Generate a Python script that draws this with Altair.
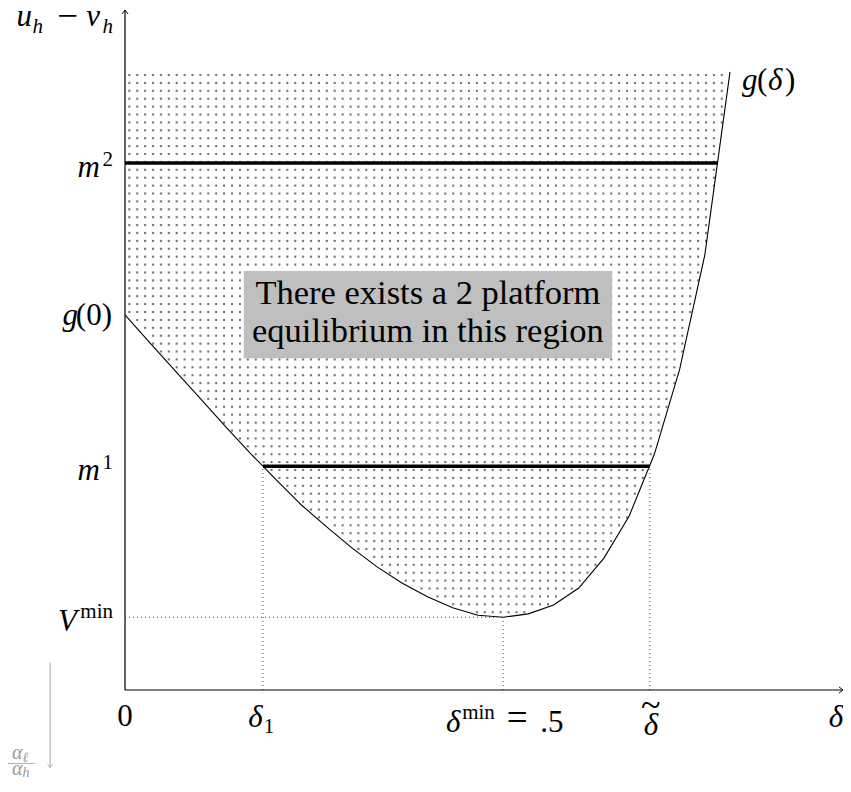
import altair as alt
import pandas as pd
import numpy as np

# ---------------- data ----------------
DELTA = [0.0, 0.0333, 0.0667, 0.1, 0.1333, 0.1667, 0.2, 0.2333, 0.2667, 0.3,
         0.3333, 0.3667, 0.4, 0.4333, 0.4667, 0.5, 0.5333, 0.5667, 0.6, 0.6333,
         0.6667, 0.7, 0.7333, 0.7667, 0.8]
G = [0.5515, 0.510, 0.469, 0.428, 0.387, 0.347, 0.309, 0.272, 0.240, 0.209,
     0.181, 0.157, 0.137, 0.121, 0.110, 0.107, 0.112, 0.125, 0.150, 0.194,
     0.256, 0.347, 0.471, 0.640, 0.909]

X_END = 0.9494     # end of delta axis
Y_END = 1.0        # end of u_h - v_h axis
TOP = 0.909        # top of dotted region
M1 = 0.329
M2 = 0.775
G0 = G[0]
VMIN = 0.107
DMIN = 0.5
D1 = 0.1825
DTILDE = 0.694
M2_END = 0.784

BOX_X = [0.157, 0.644]
BOX_Y = [0.488, 0.616]
BOX_LINES = ["There exists a 2 platform", "equilibrium in this region"]

ARROW_X = -0.099
ARROW_Y = [0.040, -0.114]
FRAC_X = [-0.1548, -0.119]
FRAC_Y = -0.108

FONT = "Liberation Serif"
W, H = 718, 680

xs = alt.Scale(domain=[0, X_END], nice=False, zero=False)
ys = alt.Scale(domain=[0, Y_END], nice=False, zero=False)


def X(f="x"):
    return alt.X(f"{f}:Q", scale=xs, axis=None)


def Y(f="y"):
    return alt.Y(f"{f}:Q", scale=ys, axis=None)


def seg_chart(segs, **mark):
    df = pd.DataFrame(segs, columns=["x", "y", "x2", "y2"])
    return alt.Chart(df).mark_rule(**mark).encode(
        x=X("x"), y=Y("y"), x2="x2:Q", y2="y2:Q")


def label(x, y, s, size=31, italic=False, align="center", dx=0, dy=0,
          color="black"):
    df = pd.DataFrame({"x": [x], "y": [y], "t": [s]})
    kw = dict(font=FONT, fontSize=size, align=align, baseline="alphabetic",
              dx=dx, dy=dy, color=color)
    if italic:
        kw["fontStyle"] = "italic"
    return alt.Chart(df).mark_text(**kw).encode(x=X(), y=Y(), text="t:N")


# ---------------- dotted fill pattern above the curve ----------------
step_x = 7.9 / (W / X_END)
step_y = 7.9 / (H / Y_END)
gx = np.arange(0.0057, 0.8, step_x)
gy = np.arange(0.9044, 0.0, -step_y)
GX, GY = np.meshgrid(gx, gy)
GX, GY = GX.ravel(), GY.ravel()
keep = GY > np.interp(GX, DELTA, G) + 0.003
dots = pd.DataFrame({"x": GX[keep], "y": GY[keep]})
dot_layer = alt.Chart(dots).mark_square(size=4.5, color="#777777", opacity=1).encode(
    x=X(), y=Y())

# ---------------- curve ----------------
curve = pd.DataFrame({"x": DELTA, "y": G})
curve_layer = alt.Chart(curve).mark_line(color="black", strokeWidth=1.1).encode(
    x=X(), y=Y(), order="x:Q")

# ---------------- box ----------------
box_df = pd.DataFrame({"x": [BOX_X[0]], "x2": [BOX_X[1]], "y": [BOX_Y[0]], "y2": [BOX_Y[1]]})
box_layer = alt.Chart(box_df).mark_rect(color="#bfbfbf").encode(
    x=X("x"), x2="x2:Q", y=Y("y"), y2="y2:Q")
bcx = (BOX_X[0] + BOX_X[1]) / 2
bcy = (BOX_Y[0] + BOX_Y[1]) / 2
box_text = [label(bcx, bcy, BOX_LINES[0], size=34.5, dy=-10.5),
            label(bcx, bcy, BOX_LINES[1], size=34.5, dy=27.5)]

# ---------------- guides ----------------
dotted = seg_chart([[D1, 0, D1, M1], [DMIN, 0, DMIN, VMIN],
                    [DTILDE, 0, DTILDE, M1], [0, VMIN, DMIN, VMIN]],
                   color="#333333", strokeWidth=0.9, strokeDash=[1, 3])
thick = seg_chart([[0, M2, M2_END, M2], [D1, M1, DTILDE, M1]],
                  color="black", strokeWidth=3.6)
axes = seg_chart([[0, 0, X_END, 0], [0, 0, 0, Y_END]], color="black", strokeWidth=1.2)

HEAD = "M-1,1.3 Q-0.35,0.45 0,0 Q0.35,0.45 1,1.3"
head_x = alt.Chart(pd.DataFrame({"x": [X_END], "y": [0]})).mark_point(
    shape=HEAD, size=36, filled=False, color="black", strokeWidth=1, angle=90, opacity=1
).encode(x=X(), y=Y())
head_y = alt.Chart(pd.DataFrame({"x": [0], "y": [Y_END]})).mark_point(
    shape=HEAD, size=36, filled=False, color="black", strokeWidth=1, opacity=1
).encode(x=X(), y=Y())

# gray arrow + fraction
gray_arrow = seg_chart([[ARROW_X, ARROW_Y[0], ARROW_X, ARROW_Y[1]]],
                       color="#b3b3b3", strokeWidth=1.2)
gray_head = alt.Chart(pd.DataFrame({"x": [ARROW_X], "y": [ARROW_Y[1]]})).mark_point(
    shape=HEAD, size=25, filled=False, color="#b3b3b3", strokeWidth=1, angle=180, opacity=1
).encode(x=X(), y=Y())
frac_bar = seg_chart([[FRAC_X[0], FRAC_Y, FRAC_X[1], FRAC_Y]], color="#9a9a9a", strokeWidth=0.8)
fcx = (FRAC_X[0] + FRAC_X[1]) / 2
GRAY = "#999999"
frac = [label(fcx, FRAC_Y, "α", size=20, italic=True, align="right", dx=1, dy=-4, color=GRAY),
        label(fcx, FRAC_Y, "ℓ", size=14, italic=True, align="left", dx=1, dy=-1, color=GRAY),
        label(fcx, FRAC_Y, "α", size=20, italic=True, align="right", dx=1, dy=12, color=GRAY),
        label(fcx, FRAC_Y, "h", size=14, italic=True, align="left", dx=1, dy=14, color=GRAY)]

# ---------------- labels ----------------
labels = [
    # u_h - v_h
    label(0, Y_END, "u", italic=True, align="right", dx=-93, dy=16),
    label(0, Y_END, "h", size=21, italic=True, align="right", dx=-82, dy=23),
    label(0, Y_END, "−", size=37, align="right", dx=-47, dy=18),
    label(0, Y_END, "v", italic=True, align="right", dx=-25, dy=16),
    label(0, Y_END, "h", size=21, italic=True, align="right", dx=-12, dy=23),
    # m^2
    label(0, M2, "m", italic=True, align="right", dx=-25, dy=14),
    label(0, M2, "2", size=21, align="right", dx=-12, dy=3),
    # g(0)
    label(0, G0, "g", italic=True, align="right", dx=-47, dy=10),
    label(0, G0, "(0)", align="right", dx=-13, dy=10),
    # m^1
    label(0, M1, "m", italic=True, align="right", dx=-25, dy=14),
    label(0, M1, "1", size=21, align="right", dx=-12, dy=3),
    # V^min
    label(0, VMIN, "V", italic=True, align="right", dx=-48, dy=14),
    label(0, VMIN, "min", size=21, align="right", dx=-12, dy=1),
    # x labels
    label(0, 0, "0", dy=36),
    label(D1, 0, "δ", italic=True, dx=-7.5, dy=37),
    label(D1, 0, "1", size=21, dx=6, dy=43),
    label(DMIN, 0, "δ", italic=True, dx=-50, dy=42),
    label(DMIN, 0, "min", size=21, align="left", dx=-41, dy=29),
    label(DMIN, 0, "=", size=37, dx=14, dy=40),
    label(DMIN, 0, ".5", align="left", dx=37, dy=42),
    label(DTILDE, 0, "δ", italic=True, dx=1, dy=45),
    label(DTILDE, 0, "~", size=36, dx=1, dy=27),
    label(X_END, 0, "δ", italic=True, dx=-7, dy=37),
    # g(delta)
    label(0.8, TOP, "g", italic=True, align="left", dx=12, dy=18),
    label(0.8, TOP, "(", align="left", dx=27, dy=18),
    label(0.8, TOP, "δ", italic=True, align="left", dx=38, dy=18),
    label(0.8, TOP, ")", align="left", dx=55, dy=18),
]

chart = alt.layer(
    dot_layer, box_layer, *box_text, curve_layer, dotted, thick, axes,
    head_x, head_y, gray_arrow, gray_head, frac_bar, *frac, *labels
).properties(
    width=W, height=H,
    autosize=alt.AutoSizeParams(type="none"),
    padding={"left": 117, "top": 2, "right": 0, "bottom": 88},
).configure_view(stroke=None)

chart.save("out.html", embed_options={"renderer": "svg", "actions": False})
